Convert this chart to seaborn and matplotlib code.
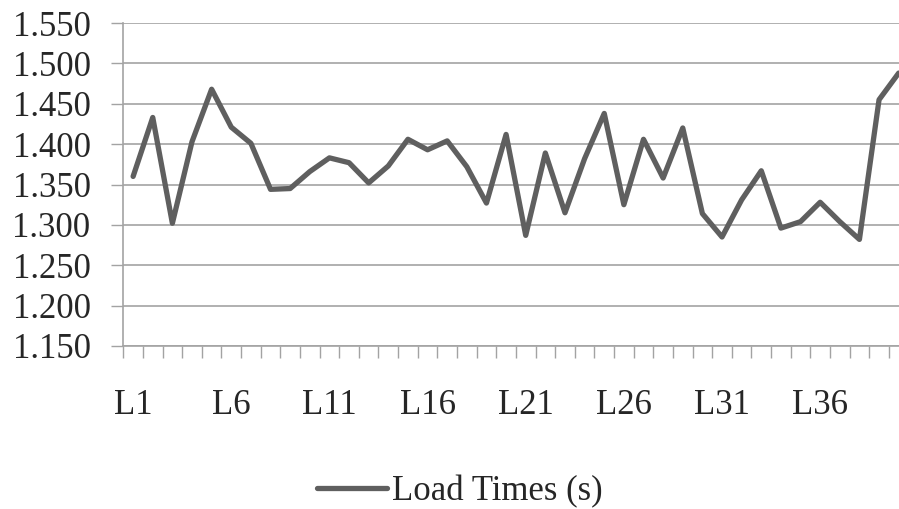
import matplotlib
matplotlib.use("Agg")
import matplotlib.pyplot as plt
import seaborn as sns
import pandas as pd
import numpy as np
from matplotlib.ticker import FixedLocator, FuncFormatter

categories = [f"L{i}" for i in range(1, 41)]
load_times = [1.360, 1.433, 1.302, 1.403, 1.468, 1.421, 1.401, 1.344, 1.345, 1.366,
              1.383, 1.377, 1.352, 1.373, 1.406, 1.393, 1.404, 1.372, 1.327, 1.412,
              1.287, 1.389, 1.315, 1.382, 1.438, 1.325, 1.406, 1.358, 1.420, 1.314,
              1.285, 1.331, 1.367, 1.296, 1.304, 1.328, 1.304, 1.282, 1.455, 1.488]
y_ticks = [1.150, 1.200, 1.250, 1.300, 1.350, 1.400, 1.450, 1.500, 1.550]
series_name = "Load Times (s)"

sns.set_style("white")
plt.rcParams["font.family"] = ["Liberation Serif", "DejaVu Serif"]

df = pd.DataFrame({"Test": categories, "Value": load_times, "Series": series_name})

W, H = 899, 509
fig = plt.figure(figsize=(W / 100, H / 100), dpi=100)
left, right, top, bottom = 123.3, 908.5, 23.0, 346.0
ax = fig.add_axes([left / W, (H - bottom) / H, (right - left) / W, (bottom - top) / H])

grid_col = "#a3a3a3"
line_col = "#5f5f5f"

sns.lineplot(data=df, x="Test", y="Value", hue="Series", palette=[line_col],
             linewidth=3.8, ax=ax, legend=True, sort=False)

ax.set_xlim(-0.5, len(categories) - 0.5)
ax.set_ylim(y_ticks[0], y_ticks[-1])
ax.set_yticks(y_ticks)
ax.yaxis.set_major_formatter(FuncFormatter(lambda v, p: f"{v:.3f}"))
ax.grid(axis="y", color=grid_col, linewidth=1.2)
ax.set_axisbelow(True)

label_pos = list(range(0, len(categories), 5))
ax.set_xticks(label_pos)
ax.set_xticklabels([categories[i] for i in label_pos])
ax.xaxis.set_minor_locator(FixedLocator(np.arange(-0.5, len(categories), 1.0)))
ax.tick_params(axis="x", which="major", bottom=True, length=0, pad=31, labelsize=25)
ax.tick_params(axis="x", which="minor", bottom=True, length=8.6, width=1.0, color=grid_col,
               direction="out")
ax.tick_params(axis="y", which="major", left=True, length=8.6, width=1.0, color=grid_col,
               direction="out", pad=15, labelsize=25)
ax.set_xlabel("")
ax.set_ylabel("")

for s in ["top", "right"]:
    ax.spines[s].set_visible(False)
for s in ["left", "bottom"]:
    ax.spines[s].set_color(grid_col)
    ax.spines[s].set_linewidth(1.2)

handles, labels = ax.get_legend_handles_labels()
ax.legend_.remove()
fig.legend(handles, labels, loc="center", bbox_to_anchor=(460 / W, (H - 492) / H),
           frameon=False, fontsize=25, handlelength=2.0, handletextpad=0.15)

fig.savefig("out.png", dpi=100)
